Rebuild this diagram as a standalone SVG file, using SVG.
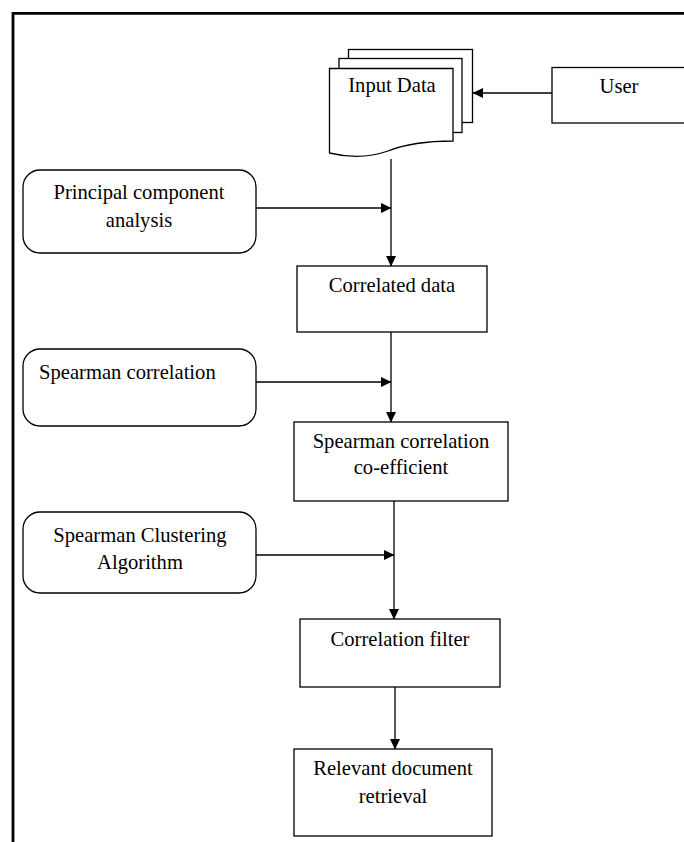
<svg xmlns="http://www.w3.org/2000/svg" width="684" height="842" viewBox="0 0 684 842">
<style>
.box{fill:#fff;stroke:#000;stroke-width:1.3}
.t{font-family:"Liberation Serif","Times New Roman",serif;font-size:20.6px;fill:#000}
.c{text-anchor:middle}
.ln{stroke:#000;stroke-width:1.3;fill:none}
</style>
<defs>
<marker id="ah" markerWidth="11" markerHeight="11" refX="10" refY="5.5" orient="auto" markerUnits="userSpaceOnUse">
<path d="M0,0.5 L10.5,5.5 L0,10.5 z" fill="#000"/>
</marker>
</defs>
<rect width="684" height="842" fill="#fff"/>
<g id="frame">
<path d="M13,842 V13.3 H684" fill="none" stroke="#000" stroke-width="2.8"/>
</g>
<g id="input-data">
<rect class="box" x="348.5" y="49.5" width="124" height="73"/>
<rect class="box" x="339" y="58.5" width="123" height="74"/>
<path class="box" d="M329.5,68.5 H453 V141 C428,141 408,143 388,151 C368,158 350,158 329.5,153 Z"/>
<text class="t c" x="392" y="92">Input Data</text>
</g>
<g id="user">
<rect class="box" x="552" y="67.5" width="140" height="55.5"/>
<text class="t c" x="619" y="93">User</text>
</g>
<g id="pca">
<rect class="box" x="23" y="170" width="233" height="83" rx="17"/>
<text class="t c" x="139" y="199">Principal component</text>
<text class="t c" x="139" y="227">analysis</text>
</g>
<g id="correlated-data">
<rect class="box" x="297" y="266" width="190" height="66"/>
<text class="t c" x="392" y="292">Correlated data</text>
</g>
<g id="spearman-correlation">
<rect class="box" x="23" y="349" width="233" height="77" rx="17"/>
<text class="t" x="39" y="379">Spearman correlation</text>
</g>
<g id="coefficient">
<rect class="box" x="294" y="422" width="214" height="79"/>
<text class="t c" x="401" y="448">Spearman correlation</text>
<text class="t c" x="401" y="474">co-efficient</text>
</g>
<g id="clustering">
<rect class="box" x="23" y="512" width="233" height="81" rx="17"/>
<text class="t c" x="140" y="542">Spearman Clustering</text>
<text class="t c" x="140" y="569">Algorithm</text>
</g>
<g id="filter">
<rect class="box" x="300" y="619" width="200" height="68"/>
<text class="t c" x="400" y="646">Correlation filter</text>
</g>
<g id="retrieval">
<rect class="box" x="294" y="749" width="198" height="87"/>
<text class="t c" x="393" y="775">Relevant document</text>
<text class="t c" x="393" y="803">retrieval</text>
</g>
<g id="connectors">
<line class="ln" x1="552" y1="93" x2="473" y2="93" marker-end="url(#ah)"/>
<line class="ln" x1="391" y1="159" x2="391" y2="266" marker-end="url(#ah)"/>
<line class="ln" x1="256" y1="208" x2="391" y2="208" marker-end="url(#ah)"/>
<line class="ln" x1="391" y1="332" x2="391" y2="422" marker-end="url(#ah)"/>
<line class="ln" x1="256" y1="382" x2="391" y2="382" marker-end="url(#ah)"/>
<line class="ln" x1="394" y1="501" x2="394" y2="619" marker-end="url(#ah)"/>
<line class="ln" x1="256" y1="555" x2="394" y2="555" marker-end="url(#ah)"/>
<line class="ln" x1="395" y1="687" x2="395" y2="749" marker-end="url(#ah)"/>
</g>
</svg>
